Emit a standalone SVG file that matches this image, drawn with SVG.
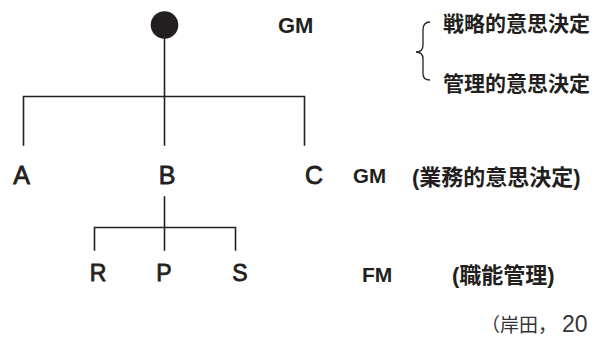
<svg xmlns="http://www.w3.org/2000/svg" width="594" height="340" viewBox="0 0 594 340">
<style>
.ln{stroke:#231f20;stroke-width:1.6;fill:none;stroke-linecap:square}
.lt{font-family:"Liberation Sans",Arial,sans-serif;fill:#231f20;stroke:#231f20;stroke-width:0.8;text-anchor:middle}
.gm{font-family:"Liberation Sans",Arial,sans-serif;font-weight:bold;fill:#231f20}
.jp{font-family:"Liberation Sans","Noto Sans CJK JP",sans-serif;font-weight:bold;fill:#231f20}
.src{font-family:"Liberation Sans","Noto Sans CJK JP",sans-serif;fill:#333}
</style>
<rect width="594" height="340" fill="#fff"/>
<g id="connectors">
<line class="ln" x1="164.5" y1="30" x2="164.5" y2="145"/>
<polyline class="ln" points="23.5,145 23.5,96.5 304.5,96.5 304.5,145"/>
<line class="ln" x1="164.5" y1="197" x2="164.5" y2="250"/>
<polyline class="ln" points="94.5,250 94.5,227.5 235.5,227.5 235.5,250"/>
<path class="ln" style="stroke-width:1.3;stroke-linecap:butt" d="M430,22 Q423,22 423,30 L423,45 Q423,52 416,52 Q423,52 423,59 L423,74 Q423,80 430,80"/>
</g>
<g id="root"><circle cx="164.5" cy="25" r="13.8" fill="#231f20"/></g>
<g id="nodeA"><text class="lt" x="21.5" y="184" font-size="25">A</text></g>
<g id="nodeB"><text class="lt" x="167" y="184" font-size="25">B</text></g>
<g id="nodeC"><text class="lt" x="314" y="184" font-size="25">C</text></g>
<g id="nodeR"><text class="lt" x="98" y="281" font-size="23">R</text></g>
<g id="nodeP"><text class="lt" x="164" y="281" font-size="23">P</text></g>
<g id="nodeS"><text class="lt" x="240" y="281" font-size="23">S</text></g>
<g id="label-top">
<text class="gm" x="278" y="33" font-size="22">GM</text>
<text class="jp" x="443" y="30.5" font-size="21">戦略的意思決定</text>
<text class="jp" x="443" y="90.5" font-size="21">管理的意思決定</text>
</g>
<g id="label-mid">
<text class="gm" x="353" y="183" font-size="20.5">GM</text>
<text class="jp" x="412" y="185" font-size="22">(業務的意思決定)</text>
</g>
<g id="label-low">
<text class="gm" x="362" y="282" font-size="21">FM</text>
<text class="jp" x="452" y="283" font-size="22">(職能管理)</text>
</g>
<g id="source">
<text class="src" x="481" y="332" font-size="19">（岸田，<tspan x="562" font-size="23">20</tspan></text>
</g>
</svg>
